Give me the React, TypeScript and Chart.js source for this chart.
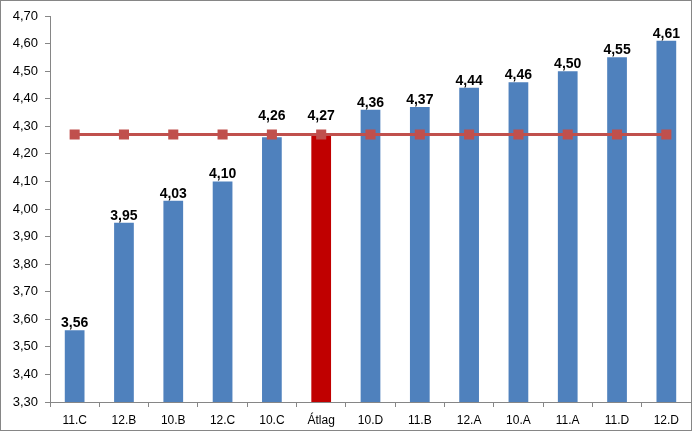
import React, { useEffect, useRef } from "react";
import { Chart, registerables } from "chart.js";

Chart.register(...registerables);

const categories = ["11.C", "12.B", "10.B", "12.C", "10.C", "Átlag", "10.D", "11.B", "12.A", "10.A", "11.A", "11.D", "12.D"];
const values = [3.56, 3.95, 4.03, 4.1, 4.26, 4.27, 4.36, 4.37, 4.44, 4.46, 4.5, 4.55, 4.61];
const averageLine = [4.27, 4.27, 4.27, 4.27, 4.27, 4.27, 4.27, 4.27, 4.27, 4.27, 4.27, 4.27, 4.27];
const highlightLabel = "Átlag";

const fmt = (v: number) => v.toFixed(2).replace(".", ",");

const frame = {
  id: "frame",
  afterDraw(chart: any) {
    const ctx = chart.ctx;
    ctx.save();
    ctx.strokeStyle = "#868686";
    ctx.lineWidth = 1;
    ctx.strokeRect(0.5, 0.5, chart.width - 1, chart.height - 1);
    ctx.restore();
  },
};

const dataLabels = {
  id: "dataLabels",
  afterDatasetsDraw(chart: any) {
    const ctx = chart.ctx;
    const meta = chart.getDatasetMeta(1);
    const lineMeta = chart.getDatasetMeta(0);
    ctx.save();
    ctx.font = "bold 14px 'Liberation Sans', Arial, sans-serif";
    ctx.fillStyle = "#000";
    ctx.textAlign = "center";
    ctx.textBaseline = "alphabetic";
    meta.data.forEach((bar: any, i: number) => {
      let base = bar.y - 3;
      const lineY = lineMeta.data[i].y;
      // move label above the average line when it would collide with it
      if (lineY > base - 14 && lineY < base + 10) base = lineY - 15;
      ctx.fillText(fmt(values[i]), bar.x, base);
    });
    ctx.restore();
  },
};

export default function App() {
  const ref = useRef<HTMLCanvasElement>(null);
  useEffect(() => {
    document.body.style.margin = "0";
    const chart = new Chart(ref.current!, {
      type: "bar",
      data: {
        labels: categories,
        datasets: [
          {
            type: "line",
            data: averageLine,
            borderColor: "#C0504D",
            backgroundColor: "#C0504D",
            borderWidth: 3,
            pointStyle: "rect",
            pointRadius: 5,
            pointBackgroundColor: "#C0504D",
            pointBorderColor: "#C0504D",
            order: 0,
          } as any,
          {
            type: "bar",
            data: values,
            backgroundColor: categories.map((c) => (c === highlightLabel ? "#C00000" : "#4F81BD")),
            barPercentage: 0.4,
            categoryPercentage: 1,
            order: 1,
          },
        ],
      },
      options: {
        responsive: false,
        animation: false,
        layout: { autoPadding: false, padding: { top: 16, right: 1, left: 0, bottom: 0 } },
        plugins: { legend: { display: false }, tooltip: { enabled: false } },
        scales: {
          x: {
            offset: true,
            grid: { drawOnChartArea: false, offset: true, tickLength: 5, color: "#868686" },
            border: { color: "#868686" },
            ticks: { color: "#000", padding: 6, font: { family: "'Liberation Sans', Arial, sans-serif", size: 12 } },
            afterFit: (s: any) => { s.height = 29; },
          },
          y: {
            min: 3.3,
            max: 4.7,
            ticks: {
              stepSize: 0.1,
              color: "#000",
              padding: 7,
              font: { family: "'Liberation Sans', Arial, sans-serif", size: 13 },
              callback: (v: any) => fmt(Number(v)),
            },
            grid: { drawOnChartArea: false, tickLength: 5, color: "#868686" },
            border: { color: "#868686" },
            afterFit: (s: any) => { s.width = 50; },
          },
        },
      },
      plugins: [dataLabels, frame],
    });
    return () => chart.destroy();
  }, []);
  return <canvas ref={ref} width={692} height={431} style={{ display: "block" }} />;
}
